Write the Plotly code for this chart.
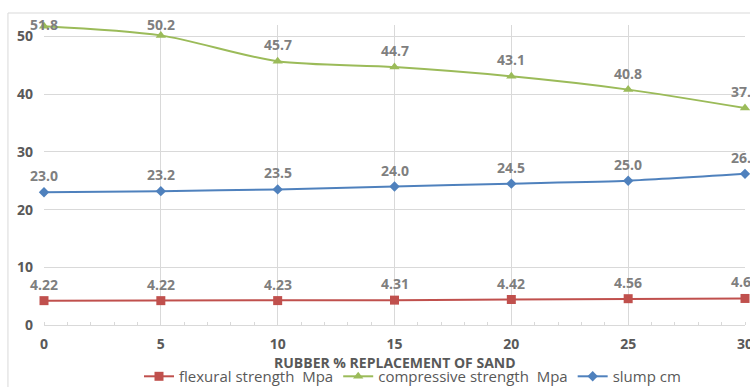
import plotly.graph_objects as go

rubber_pct = [0, 5, 10, 15, 20, 25, 30]
flexural = [4.22, 4.22, 4.23, 4.31, 4.42, 4.56, 4.60]
compressive = [51.8, 50.2, 45.7, 44.7, 43.1, 40.8, 37.6]
slump = [23.0, 23.2, 23.5, 24.0, 24.5, 25.0, 26.2]

flex_labels = [f"{v:.2f}" for v in flexural]
comp_labels = [f"{v:.1f}" for v in compressive]
slump_labels = [f"{v:.1f}" for v in slump]

RED = "#C0504D"
GREEN = "#9BBB59"
BLUE = "#4F81BD"
GRID = "#D9D9D9"
TXT = "#595959"
LBL = "#7F7F7F"
FONT = "Open Sans"

Y_MAX = 52.0

fig = go.Figure()
fig.add_trace(go.Scatter(
    x=rubber_pct, y=flexural, name="flexural strength  Mpa",
    mode="lines+markers", line=dict(color=RED, width=2),
    marker=dict(symbol="square", size=9, color=RED), cliponaxis=False))
fig.add_trace(go.Scatter(
    x=rubber_pct, y=compressive, name="compressive strength  Mpa",
    mode="lines+markers", line=dict(color=GREEN, width=2, shape="spline", smoothing=0.8),
    marker=dict(symbol="triangle-up", size=9, color=GREEN), cliponaxis=False))
fig.add_trace(go.Scatter(
    x=rubber_pct, y=slump, name="slump cm",
    mode="lines+markers", line=dict(color=BLUE, width=2, shape="spline", smoothing=0.6),
    marker=dict(symbol="diamond", size=8, color=BLUE), cliponaxis=False))

# data labels above points (kept within the top of the plot area)
px_per_unit = 300.0 / Y_MAX
for series, labels in ((flexural, flex_labels), (compressive, comp_labels), (slump, slump_labels)):
    for xv, yv, t in zip(rubber_pct, series, labels):
        shift = min(16.5, (Y_MAX + 0.1 - yv) * px_per_unit)
        fig.add_annotation(x=xv, y=yv, text=t, showarrow=False, yshift=shift,
                           font=dict(family=FONT, size=14, color=LBL, weight="bold"))

fig.add_annotation(x=0.5, y=-0.126, xref="paper", yref="paper", text="RUBBER % REPLACEMENT OF SAND",
                   showarrow=False, yanchor="middle",
                   font=dict(family=FONT, size=14, color=TXT, weight="bold"))

# chart border
fig.add_shape(type="rect", xref="paper", yref="paper", x0=-0.0514, x1=1.06, y0=-0.3, y1=1.04,
              line=dict(color=GRID, width=1), layer="below")

fig.update_layout(
    width=750, height=387,
    margin=dict(l=44, r=5, t=25, b=62, autoexpand=False),
    paper_bgcolor="white", plot_bgcolor="white",
    showlegend=True,
    legend=dict(orientation="h", x=0.55, xanchor="center", xref="container",
                y=0.027, yanchor="middle", yref="container",
                font=dict(family=FONT, size=15, color=TXT), itemwidth=30, tracegroupgap=0,
                bgcolor="rgba(0,0,0,0)"),
    xaxis=dict(range=[0, 30], tickvals=[0, 5, 10, 15, 20, 25, 30], showgrid=True, gridcolor=GRID,
               zeroline=False, showline=True, linecolor=GRID, ticks="", ticklabelstandoff=6,
               ticklabeloverflow="allow", automargin=False,
               tickfont=dict(family=FONT, size=14, color=TXT, weight="bold"),
               minor=dict(dtick=1, ticks="inside", ticklen=3, tickcolor=GRID, showgrid=False)),
    yaxis=dict(range=[0, Y_MAX], tickvals=[0, 10, 20, 30, 40, 50], showgrid=True, gridcolor=GRID,
               zeroline=False, showline=False, ticks="", ticklabelstandoff=10, automargin=False,
               tickfont=dict(family=FONT, size=14, color=TXT, weight="bold")),
)

fig.write_html("out.html")
